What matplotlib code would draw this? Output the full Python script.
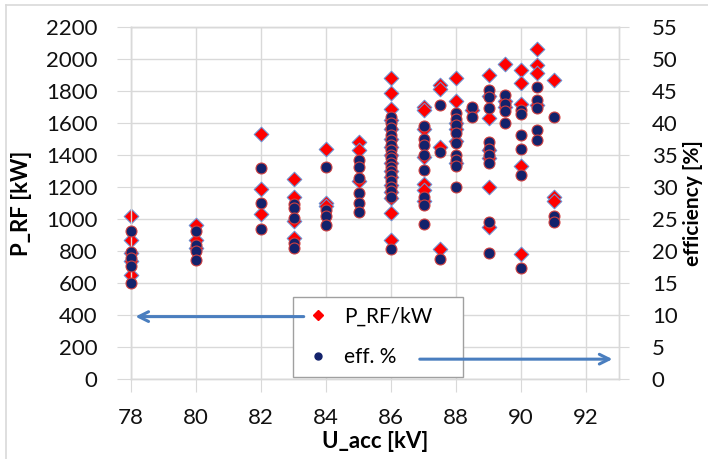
import matplotlib
matplotlib.use("Agg")
import matplotlib.pyplot as plt
from matplotlib.lines import Line2D
import numpy as np

plt.rcParams['font.family'] = ['Lato', 'DejaVu Sans']

# ---- data: P_RF [kW] (red diamonds, left axis) ----
prf_u = [78, 78, 78, 78, 78,
         80, 80, 80,
         82, 82, 82,
         83, 83, 83, 83,
         84, 84, 84,
         85, 85, 85,
         86, 86, 86, 86, 86, 86, 86, 86, 86, 86, 86, 86, 86, 86, 86, 86,
         87, 87, 87, 87, 87, 87, 87,
         87.5, 87.5, 87.5, 87.5,
         88, 88, 88, 88, 88, 88,
         88.5,
         89, 89, 89, 89, 89, 89, 89,
         89.5, 89.5, 89.5,
         90, 90, 90, 90, 90,
         90.5, 90.5, 90.5, 90.5,
         91, 91, 91]
prf_kw = [1020, 870, 790, 740, 650,
          960, 870, 820,
          1530, 1190, 1030,
          1250, 1140, 990, 880,
          1440, 1100, 1080,
          1480, 1430, 1240,
          1880, 1790, 1690, 1620, 1560, 1500, 1450, 1400, 1350, 1300, 1260, 1210, 1170, 1130, 1040, 870,
          1700, 1680, 1560, 1390, 1220, 1180, 1110,
          1840, 1810, 1450, 810,
          1880, 1740, 1600, 1560, 1490, 1350,
          1680,
          1900, 1770, 1630, 1430, 1380, 1200, 950,
          1970, 1740, 1700,
          1930, 1850, 1720, 1330, 780,
          2060, 1960, 1910, 1710,
          1870, 1140, 1110]

# ---- data: efficiency [%] (navy dots, right axis) ----
eff_u = [78, 78, 78, 78, 78,
         80, 80, 80, 80,
         82, 82, 82,
         83, 83, 83, 83, 83,
         84, 84, 84, 84,
         85, 85, 85, 85, 85, 85,
         86, 86, 86, 86, 86, 86, 86, 86, 86, 86, 86, 86, 86, 86, 86, 86, 86, 86,
         87, 87, 87, 87, 87, 87, 87, 87,
         87.5, 87.5, 87.5,
         88, 88, 88, 88, 88, 88, 88, 88, 88,
         88.5, 88.5,
         89, 89, 89, 89, 89, 89, 89, 89, 89,
         89.5, 89.5, 89.5, 89.5,
         90, 90, 90, 90, 90, 90,
         90.5, 90.5, 90.5, 90.5, 90.5,
         91, 91, 91]
eff_pct = [23.2, 19.9, 18.9, 17.7, 15.0,
           23.1, 20.9, 20.0, 18.6,
           32.9, 27.5, 23.4,
           27.4, 26.7, 25.1, 21.3, 20.4,
           33.1, 26.4, 25.4, 24.1,
           34.2, 33.2, 31.4, 29.0, 27.5, 26.1,
           41.0, 40.0, 39.2, 38.2, 37.3, 36.5, 35.8, 35.0, 34.5, 33.8, 33.2, 32.5, 31.9, 31.0, 30.0, 29.3, 28.5, 20.3,
           39.5, 37.5, 36.5, 35.0, 32.7, 28.5, 27.2, 24.2,
           42.8, 35.5, 18.8,
           41.6, 40.7, 39.7, 38.4, 36.8, 35.0, 34.2, 33.3, 30.0,
           42.5, 40.9,
           45.2, 44.0, 42.3, 37.1, 36.0, 35.0, 33.7, 24.6, 19.7,
           44.4, 43.0, 41.9, 40.0,
           42.0, 41.4, 38.2, 35.9, 31.9, 17.3,
           45.7, 43.6, 42.3, 38.9, 37.3,
           41.0, 25.5, 24.6]

x_ticks = [78, 80, 82, 84, 86, 88, 90, 92]
y_left_ticks = list(range(0, 2201, 200))
y_right_ticks = list(range(0, 56, 5))

grid_c = '#d9d9d9'
red = '#ff0000'
navy = '#13226b'
arrow_c = '#4a7ebf'

fig = plt.figure(figsize=(7.08, 4.59), dpi=100)
ax = fig.add_axes([131/708, 1 - 379/459, (618.5-131)/708, (379-27)/459])
ax2 = ax.twinx()

ax.scatter(prf_u, prf_kw, marker='D', s=55, color=red, edgecolors='#6f8fd0',
           linewidths=0.8, zorder=3, clip_on=False, label='P_RF/kW')
ax2.scatter(eff_u, eff_pct, marker='o', s=62, color=navy, edgecolors='#d04040',
            linewidths=0.8, zorder=3, clip_on=False, label='eff. %')

ax.set_xlim(78, 93)
ax.set_ylim(0, 2200)
ax2.set_ylim(0, 55)
ax.set_xticks(x_ticks)
ax.set_yticks(y_left_ticks)
ax2.set_yticks(y_right_ticks)

ax.grid(True, color=grid_c, lw=1, zorder=0)
ax.set_axisbelow(True)
for a in (ax, ax2):
    for s in a.spines.values():
        s.set_color(grid_c)
        s.set_linewidth(1)

ax.tick_params(axis='both', direction='out', color=grid_c, labelsize=16, labelcolor='#111111')
ax.tick_params(axis='y', length=10, pad=14)
ax.tick_params(axis='x', length=9, pad=12)
ax2.tick_params(axis='y', direction='out', color=grid_c, length=7, pad=17,
                labelsize=16, labelcolor='#111111')

ax.set_xlabel('U_acc [kV]', fontsize=16, fontweight='bold', labelpad=2)
ax.set_ylabel('P_RF [kW]', fontsize=16, fontweight='bold', labelpad=10)
ax2.set_ylabel('efficiency [%]', fontsize=15, fontweight='bold', labelpad=4)

handles = [Line2D([], [], marker='D', ls='none', color=red, markersize=5, label='P_RF/kW'),
           Line2D([], [], marker='o', ls='none', color=navy, markersize=5, label='eff. %')]
leg = ax2.legend(handles=handles, loc='upper left', mode='expand',
                 bbox_to_anchor=(293/708, 1 - 376/459, 170/708, 79/459),
                 bbox_transform=fig.transFigure,
                 fontsize=15, frameon=True, fancybox=False, edgecolor='#a0a0a0',
                 framealpha=1, borderpad=0.45, labelspacing=1.0, handlelength=1.5,
                 handletextpad=0.5, borderaxespad=0)
leg.get_frame().set_linewidth(1)
leg.set_zorder(5)

# arrows (left axis -> P_RF, right axis -> eff)
ax2.annotate('', xy=(78.05, 9.75), xytext=(83.4, 9.75),
             arrowprops=dict(arrowstyle='->,head_length=0.7,head_width=0.35',
                             color=arrow_c, lw=2.2), zorder=10, annotation_clip=False)
ax2.annotate('', xy=(92.9, 3.1), xytext=(86.8, 3.1),
             arrowprops=dict(arrowstyle='->,head_length=0.7,head_width=0.35',
                             color=arrow_c, lw=2.2), zorder=10, annotation_clip=False)

# chart-area border (top and left)
fig.add_artist(Line2D([6/708, 1], [1 - 5/459, 1 - 5/459], transform=fig.transFigure, color=grid_c, lw=1.2))
fig.add_artist(Line2D([6/708, 6/708], [0, 1 - 5/459], transform=fig.transFigure, color=grid_c, lw=1.2))

fig.savefig('out.png', dpi=100)
